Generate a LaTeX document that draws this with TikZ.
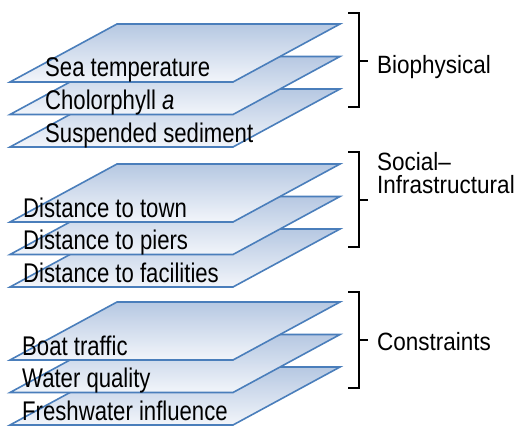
\documentclass[tikz,border=0pt]{standalone}
\usepackage{fontspec}
\setmainfont[FakeStretch=0.82]{Liberation Sans}
\newfontfamily\sidefont[FakeStretch=0.9]{Liberation Sans}
\usetikzlibrary{positioning}

\definecolor{layeredge}{RGB}{74,126,187}
\definecolor{layertop}{RGB}{182,200,226}
\definecolor{layerbot}{RGB}{242,245,250}

\tikzset{
	layer/.style={draw=layeredge, line width=1.6pt, top color=layertop, bottom color=layerbot},
	lbl/.style={anchor=base west, inner sep=0pt, font=\fontsize{27}{28}\selectfont},
	grp/.style={anchor=base west, inner sep=0pt, align=left, font=\sidefont\fontsize{25}{22.5}\selectfont},
	brk/.style={draw=black, line width=1.4pt}
}

\begin{document}
\begin{tikzpicture}[x=1pt,y=-1pt]
	\useasboundingbox (0,0) rectangle (519,428);
	\def\dx{107}
	\def\w{223}
	\def\h{58}
	% stacked layers, lowest one first
	\foreach \t in {24,164,302}{
		\foreach \k in {65,32.5,0}{
			\pgfmathsetmacro{\y}{\t+\k}
			\draw[layer] (10,\y+\h) -- ++(\dx,-\h) -- ++(\w,0) -- ++(-\dx,\h) -- cycle;
		}
	}
	
	\node[lbl] (sea) at (45,77) {Sea temperature};
	\node[lbl] (chl) at (45,109.5) {Cholorphyll \textit{a}};
	\node[lbl] (sed) at (45,142) {Suspended sediment};
	
	\node[lbl] (town) at (23,217) {Distance to town};
	\node[lbl] (piers) at (23,249.5) {Distance to piers};
	\node[lbl] (fac) at (23,282) {Distance to facilities};
	
	\node[lbl] (boat) at (22,355) {Boat traffic};
	\node[lbl] (water) at (22,387.5) {Water quality};
	\node[lbl] (fresh) at (22,420) {Freshwater influence};
	
	% brackets
	\coordinate (b1) at (368,61);
	\coordinate (b2) at (368,200);
	\coordinate (b3) at (368,340);
	\draw[brk] (348,13) -- (359,13) -- (359,107) -- (348,107);
	\draw[brk] (359,61) -- (b1);
	\draw[brk] (348,152) -- (359,152) -- (359,247) -- (348,247);
	\draw[brk] (359,200) -- (b2);
	\draw[brk] (348,292) -- (359,292) -- (359,388) -- (348,388);
	\draw[brk] (359,340) -- (b3);
	
	\node[grp] (bio) at (377,74) {Biophysical};
	\node[grp] (soc) at (377,193) {Social–\\Infrastructural};
	\node[grp] (con) at (377,350) {Constraints};
\end{tikzpicture}
\end{document}
